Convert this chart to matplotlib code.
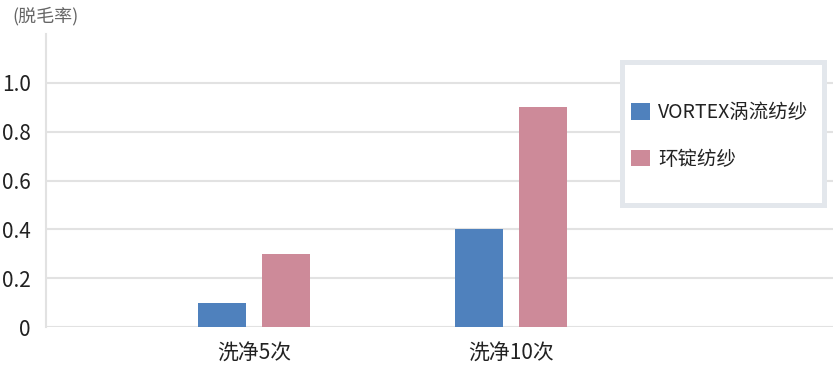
import numpy as np
import matplotlib
matplotlib.use("Agg")
import matplotlib.pyplot as plt
from matplotlib.patches import Rectangle

plt.rcParams['font.family'] = ['Noto Sans CJK SC', 'DejaVu Sans']

# 数据
categories = ["洗净5次", "洗净10次"]
series_names = ["VORTEX涡流纺纱", "环锭纺纱"]
vortex = [0.1, 0.4]
ring = [0.3, 0.9]
yticks = [0, 0.2, 0.4, 0.6, 0.8, 1.0]
ytick_labels = ["0", "0.2", "0.4", "0.6", "0.8", "1.0"]

colors = ["#4f81bd", "#cd8a99"]
grid_color = "#e2e2e2"
text_color = "#222222"

W, H = 833, 372
fig = plt.figure(figsize=(W / 100, H / 100), dpi=100)
ax = fig.add_axes((46 / W, 45 / H, (W - 46) / W, 293 / H))

x = np.arange(len(categories))
bw = 0.187
off = 0.125
ax.bar(x - off, vortex, width=bw, color=colors[0], label=series_names[0], zorder=3)
ax.bar(x + off, ring, width=bw, color=colors[1], label=series_names[1], zorder=3)

ax.set_xlim(-0.809, 2.253)
ax.set_ylim(0, 1.2)
ax.set_yticks(yticks)
ax.set_yticklabels(ytick_labels)
ax.set_xticks(x)
ax.set_xticklabels(categories)

for y in yticks:
    ax.axhline(y, color=grid_color, lw=1.5, zorder=1)

for s in ["top", "right", "bottom"]:
    ax.spines[s].set_visible(False)
ax.spines["left"].set_color(grid_color)
ax.spines["left"].set_linewidth(1.5)

ax.tick_params(axis="y", length=0, pad=11, labelsize=15, labelcolor=text_color)
ax.tick_params(axis="x", length=0, pad=11, labelsize=15, labelcolor=text_color)

fig.text(12 / W, 1 - 16 / H, "(脱毛率)", fontsize=13, color="#666666", va="center", ha="left")

# 图例外框
fig.patches.append(Rectangle((621.5 / W, 167.5 / H), 202 / W, 142 / H,
                             transform=fig.transFigure, facecolor="white",
                             edgecolor="#e3e7ec", linewidth=3.6, zorder=5))
leg = fig.legend(loc="upper left", bbox_to_anchor=(631 / W, 1 - 102 / H),
                 frameon=False, fontsize=14, handlelength=0.98, handleheight=0.95,
                 handletextpad=0.4, labelspacing=1.32, borderpad=0, borderaxespad=0)
leg.set_zorder(6)
for t in leg.get_texts():
    t.set_color(text_color)

fig.savefig("out.png", dpi=100)
